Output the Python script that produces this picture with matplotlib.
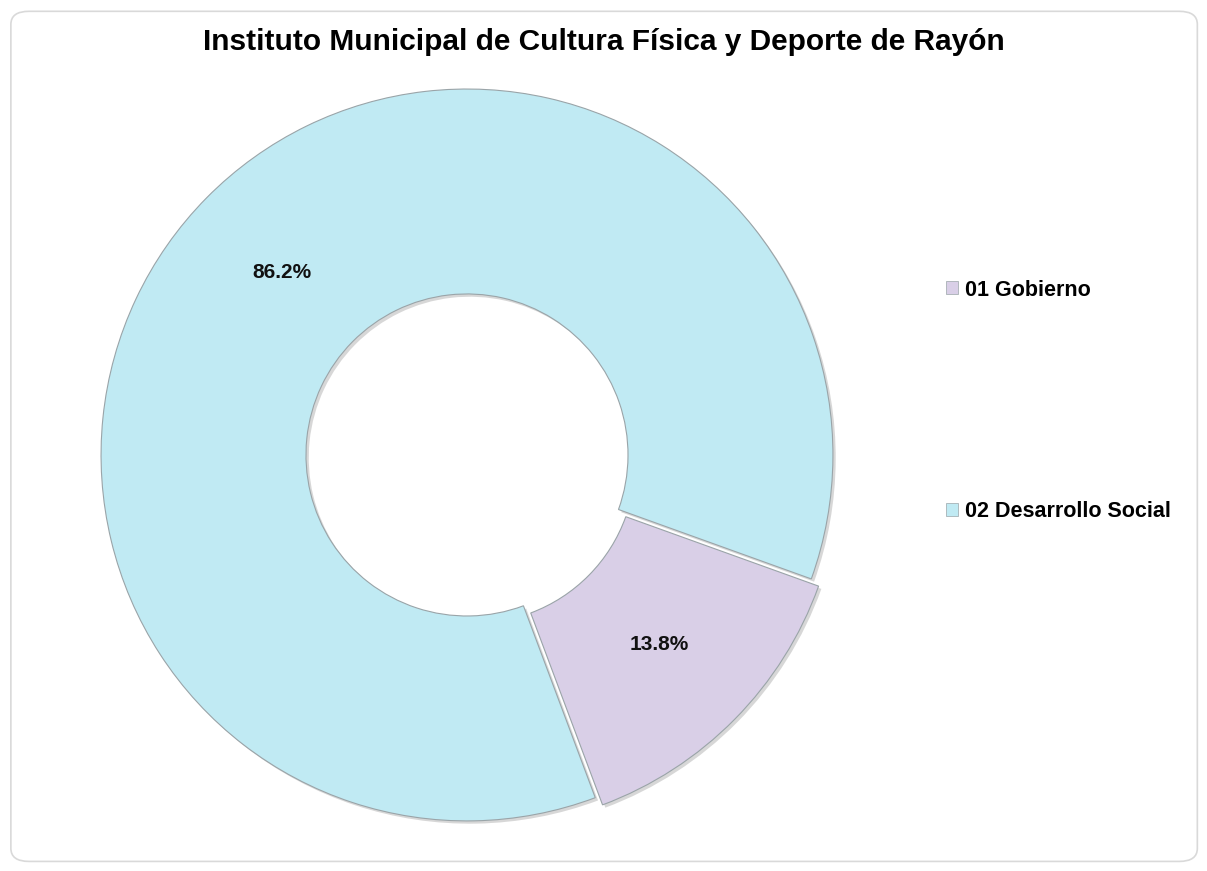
import numpy as np
import matplotlib
matplotlib.use("Agg")
import matplotlib.pyplot as plt
from matplotlib.patches import FancyBboxPatch
import matplotlib.patheffects as pe

plt.rcParams['font.family'] = ['Liberation Sans', 'DejaVu Sans']

title = "Instituto Municipal de Cultura Física y Deporte de Rayón"
categories = ["01 Gobierno", "02 Desarrollo Social"]
shares = [13.8, 86.2]
colors = ["#D9CFE7", "#C0EAF3"]

fig = plt.figure(figsize=(12.07, 8.71), dpi=100)
fig.patch.set_facecolor("white")

# rounded frame like the exported chart area
frame = FancyBboxPatch((0.009, 0.011), 0.983, 0.976, boxstyle="round,pad=0,rounding_size=0.015",
                       transform=fig.transFigure, facecolor="white", edgecolor="#d9d9d9",
                       linewidth=1.2, zorder=-1)
fig.patches.append(frame)

ax = fig.add_axes([0.0534, 0.0154, 0.667, 0.9245])
wedges, texts, autotexts = ax.pie(
    shares, colors=colors, startangle=-19.8, counterclock=False,
    explode=[0.028, 0], autopct="%1.1f%%", pctdistance=0.71,
    wedgeprops=dict(width=0.56, edgecolor="#9aa4a8", linewidth=0.8),
    textprops=dict(fontsize=15, fontweight="bold", color="#111111"))
for w in wedges:
    w.set_path_effects([pe.SimplePatchShadow(offset=(2, -2), shadow_rgbFace="#b0b0b0", alpha=0.5),
                        pe.Normal()])

ax.set_xlim(-1.1, 1.1)
ax.set_ylim(-1.1, 1.1)
ax.set_aspect("equal")
ax.axis("off")

fig.text(0.5, 0.952, title, ha="center", va="center", fontsize=21.5, fontweight="bold")

leg = fig.legend(wedges, categories, loc="center left", bbox_to_anchor=(0.768, 0.540),
                 frameon=False, labelspacing=9.3, handlelength=0.55,
                 handleheight=0.55, handletextpad=0.3, prop=dict(weight="bold", size=15.5))
for h in leg.legend_handles:
    h.set_edgecolor("#9aa4a8")
    h.set_linewidth(0.5)
    h.set_path_effects([])

fig.savefig("out.png", dpi=100, facecolor="white")
